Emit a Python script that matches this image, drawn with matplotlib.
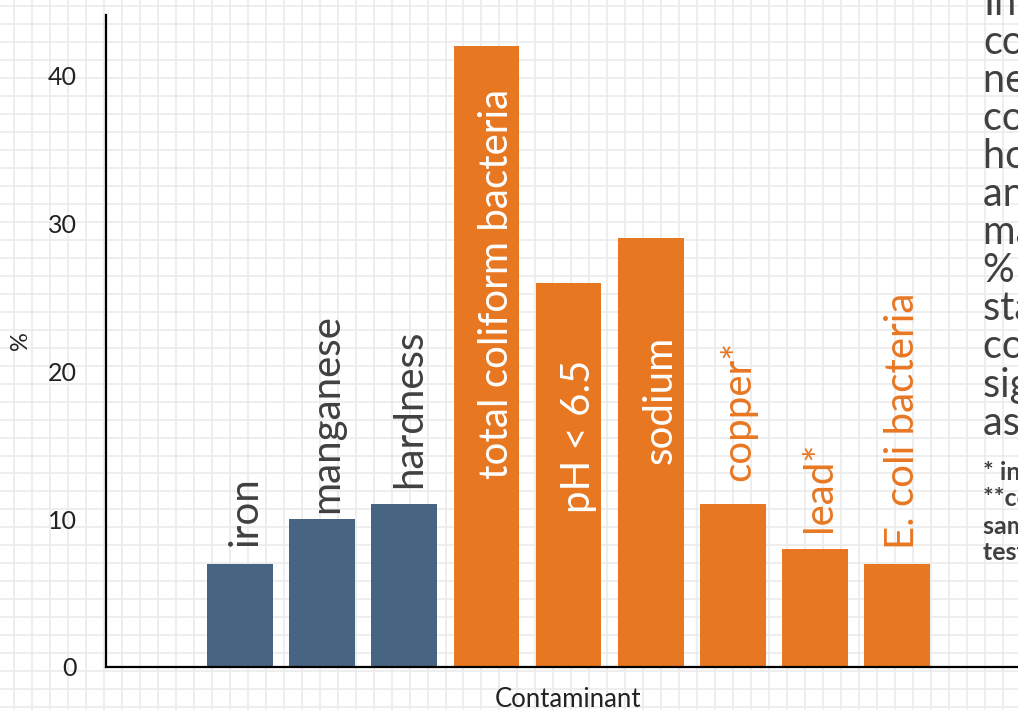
import numpy as np
import matplotlib
matplotlib.use("Agg")
import matplotlib.pyplot as plt

plt.rcParams['font.family'] = ['Lato', 'DejaVu Sans']

# data
contaminants = ['iron', 'manganese', 'hardness', 'total coliform bacteria',
                'pH < 6.5', 'sodium', 'copper*', 'lead*', 'E. coli bacteria']
percent = [7, 10, 11, 42, 26, 29, 11, 8, 7]
group = ['aesthetic', 'aesthetic', 'aesthetic', 'health', 'health', 'health',
         'health', 'health', 'health']
yticks = [0, 10, 20, 30, 40]

note_lines = ['Infrequent', 'contaminants', 'never exceeded', 'concern levels,',
              'however, iron', 'and manganese', 'may exceed', '% of samples',
              'standards and', 'could pose', 'significant risk', 'as well.']
foot_lines = ['* in first-draw samples', '**coliform positive', 'samples were',
              'tested for E. coli']

# style
blue = '#476582'
orange = '#E87722'
dark = '#404040'
bar_color = {'aesthetic': blue, 'health': orange}
label_color = [dark, dark, dark, 'white', 'white', 'white', orange, orange, orange]
# positive: gap above the bar, negative: text ends this far below the bar top
label_gap = [1.2, 0.4, 1.1, -2.9, -5.2, -6.6, 1.6, 1.1, 1.0]

W, H = 1018, 710
fig = plt.figure(figsize=(W / 100, H / 100), dpi=100)

# graph-paper background
bg = fig.add_axes([0, 0, 1, 1], zorder=0)
bg.set_xlim(0, W)
bg.set_ylim(H, 0)
bg.axis('off')
for gx in np.arange(14, W, 17.98):
    bg.axvline(gx, color='#ebebeb', lw=1.2)
for gy in np.arange(6, H, 17.98):
    bg.axhline(gy, color='#ebebeb', lw=1.2)

ax = fig.add_axes([106 / W, 43 / H, 1 - 106 / W, 652 / H], zorder=1)
ax.patch.set_alpha(0)

x = np.arange(len(contaminants))
ax.bar(x, percent, width=0.8, color=[bar_color[g] for g in group], zorder=2)

for i, (name, v) in enumerate(zip(contaminants, percent)):
    gap = label_gap[i]
    if gap >= 0:
        ax.text(x[i] + 0.06, v + gap, name, rotation=90, ha='center', va='bottom',
                fontsize=29, color=label_color[i], zorder=3)
    else:
        ax.text(x[i] + 0.12, v + gap, name, rotation=90, ha='center', va='top',
                fontsize=29, color=label_color[i], zorder=3)

ax.set_xlim(-1.63, 9.47)
ax.set_ylim(0, 44.1)
ax.set_yticks(yticks)
ax.set_xticks([])
ax.tick_params(axis='y', length=0, pad=21, labelsize=18, labelcolor='#222222')
for s in ['top', 'right']:
    ax.spines[s].set_visible(False)
for s in ['left', 'bottom']:
    ax.spines[s].set_linewidth(1.6)
    ax.spines[s].set_color('black')

fig.text(21 / W, 1 - 341 / H, '%', rotation=90, ha='center', va='center',
         fontsize=17, color='#222222')
fig.text(568 / W, 3 / H, 'Contaminant', ha='center', va='baseline',
         fontsize=18.5, color='#222222')

for k, line in enumerate(note_lines):
    fig.text(983 / W, 1 - (4 + 38.1 * k) / H, line, ha='left', va='center',
             fontsize=28.5, color=dark)
for k, line in enumerate(foot_lines):
    fig.text(983 / W, 1 - (472 + 27 * k) / H, line, ha='left', va='center',
             fontsize=18, fontweight='bold', color=dark)

fig.savefig('out.png', dpi=100)
